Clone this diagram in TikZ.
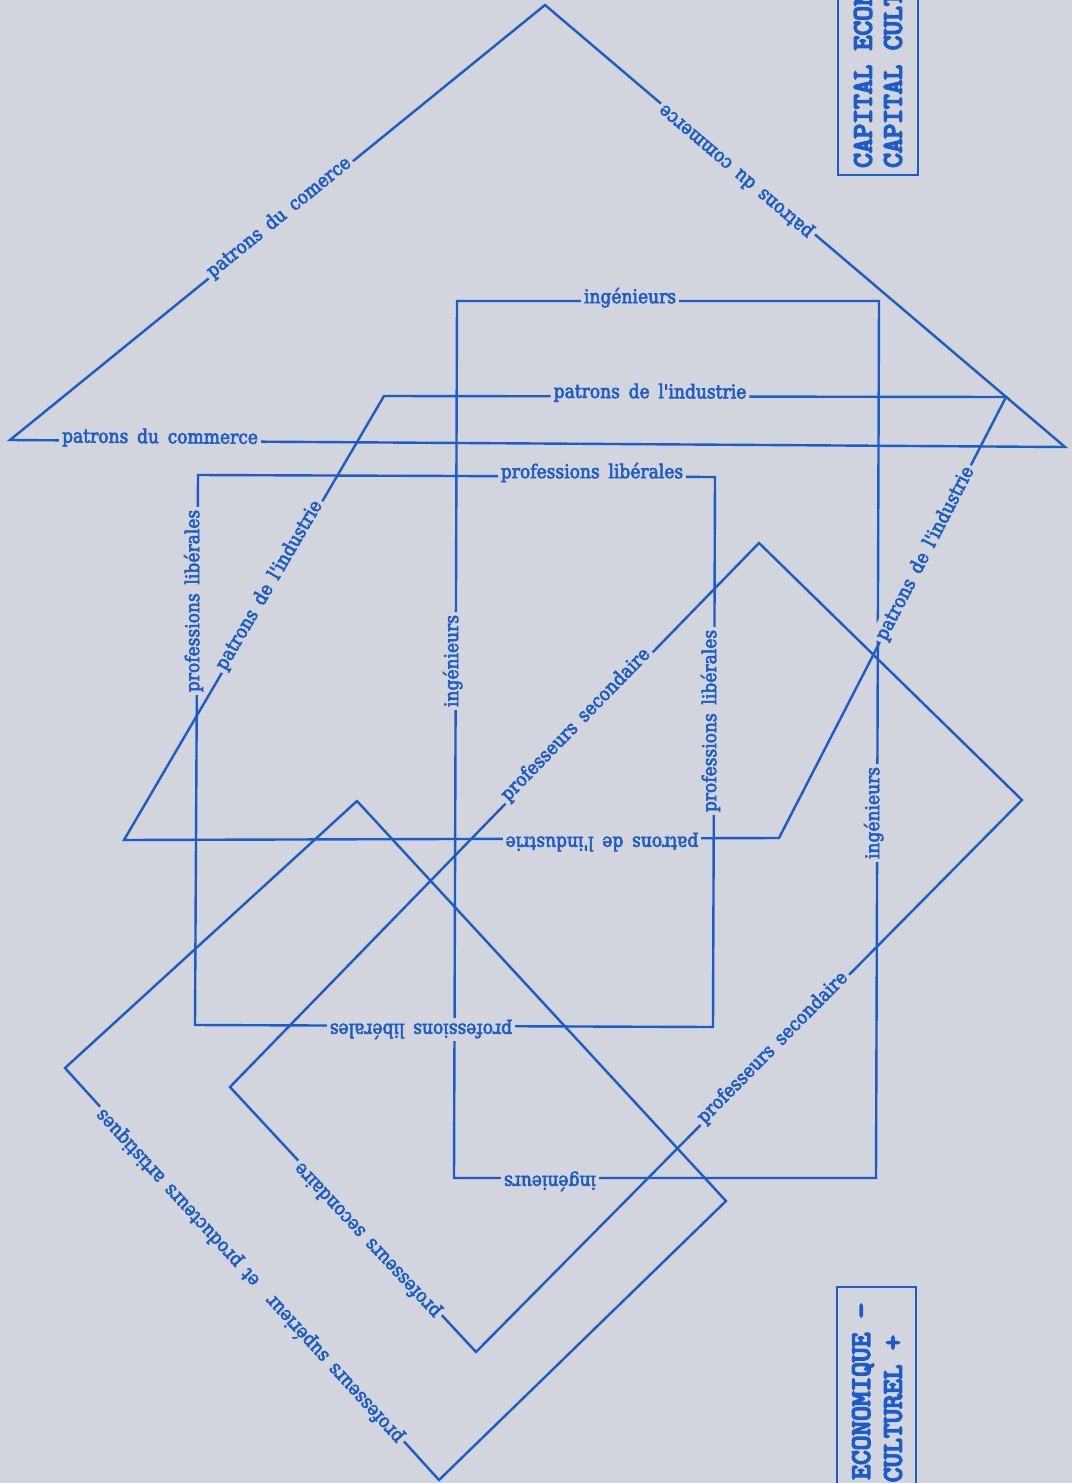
\documentclass[tikz,border=0pt]{standalone}
\usepackage{fontspec}
\newfontfamily\lblfont[WordSpace=1.6,FakeBold=3]{DejaVu Serif Condensed}
\newfontfamily\capfont[Extension=.otf,FakeBold=6]{lmmono10-regular}
\definecolor{ink}{RGB}{28,92,200}
\definecolor{paper}{RGB}{210,212,222}
\begin{document}
\begin{tikzpicture}[x=1pt,y=-1pt,
  edge/.style={draw=ink, line width=2.4pt, line join=miter},
  lbl/.style={font=\lblfont\fontsize{19}{19}\selectfont, text=ink, fill=paper, inner xsep=3pt, inner ysep=2pt, anchor=mid},
  capt/.style={font=\capfont\fontsize{28}{28}\selectfont, text=ink, rotate=90, inner sep=0pt}]
\useasboundingbox (0,0) rectangle (1072,1483);
\fill[paper] (0,0) rectangle (1072,1483);
\clip (0,0) rectangle (1072,1483);

% corners
\coordinate (T1) at (545,5);   \coordinate (T2) at (1065,447); \coordinate (T3) at (10,440);
\coordinate (I1) at (457,301); \coordinate (I2) at (879,301);  \coordinate (I3) at (876,1178); \coordinate (I4) at (454,1178);
\coordinate (P1) at (384,396); \coordinate (P2) at (1006,397); \coordinate (P3) at (779,838);  \coordinate (P4) at (124,840);
\coordinate (L1) at (198,475); \coordinate (L2) at (715,477);  \coordinate (L3) at (713,1027); \coordinate (L4) at (195,1025);
\coordinate (B1) at (759,543); \coordinate (B2) at (1022,800); \coordinate (B3) at (476,1352); \coordinate (B4) at (230,1087);
\coordinate (C1) at (357,801); \coordinate (C2) at (726,1201); \coordinate (C3) at (439,1480); \coordinate (C4) at (65,1068);

% shapes
\draw[edge] (T1) -- (T2) -- (T3) -- cycle;
\draw[edge] (I1) -- (I2) -- (I3) -- (I4) -- cycle;
\draw[edge] (P1) -- (P2) -- (P3) -- (P4) -- cycle;
\draw[edge] (L1) -- (L2) -- (L3) -- (L4) -- cycle;
\draw[edge] (B1) -- (B2) -- (B3) -- (B4) -- cycle;
\draw[edge] (C1) -- (C2) -- (C3) -- (C4) -- cycle;

% labels: patrons du commerce
\node[lbl, rotate=-0.4]  (tBase)  at (160,441) {patrons du commerce};
\node[lbl, rotate=39.1]  (tLeft)  at (281,220) {patrons du comerce};
\node[lbl, rotate=139.6] (tRight) at (738,169) {patrons du commerce};

% ingenieurs
\node[lbl]               (iTop)    at (630,301)  {ingénieurs};
\node[lbl, rotate=90]    (iLeft)   at (456,661)  {ingénieurs};
\node[lbl, rotate=90]    (iRight)  at (877,813)  {ingénieurs};
\node[lbl, rotate=180]   (iBottom) at (550,1178) {ingénieurs};

% patrons de l'industrie
\node[lbl, rotate=-0.2]  (pTop)    at (650,396) {patrons de l'industrie};
\node[lbl, rotate=59.7]  (pLeft)   at (272,587) {patrons de l'industrie};
\node[lbl, rotate=62.7]  (pRight)  at (928,555) {patrons de l'industrie};
\node[lbl, rotate=180]   (pBottom) at (602,839) {patrons de l'industrie};

% professions liberales
\node[lbl]               (lTop)    at (592,476)  {professions libérales};
\node[lbl, rotate=90]    (lLeft)   at (197,601)  {professions libérales};
\node[lbl, rotate=90]    (lRight)  at (714,721)  {professions libérales};
\node[lbl, rotate=180]   (lBottom) at (421,1026) {professions libérales};

% professeurs
\node[lbl, rotate=45.8]  (bUp)    at (578,727)  {professeurs secondaire};
\node[lbl, rotate=45.3]  (bRight) at (775,1050) {professeurs secondaire};
\node[lbl, rotate=133.1] (bLow)   at (370,1238) {professeurs secondaire};
\node[lbl, rotate=132.5] (cLow)   at (252,1274) {professeurs supérieur\quad et producteurs artistiques};

% capital boxes
\draw[edge] (838,-20) rectangle (918,175);
\node[capt, anchor=west] (capEco) at (863,168) {CAPITAL ECON};
\node[capt, anchor=west] (capCul) at (893,168) {CAPITAL CULT};
\draw[edge] (837,1287) rectangle (916,1510);
\node[capt, anchor=east] (ecoMin) at (863,1303) {ECONOMIQUE −};
\node[capt, anchor=east] (culPlus) at (893,1335) {CULTUREL +};
\end{tikzpicture}
\end{document}
